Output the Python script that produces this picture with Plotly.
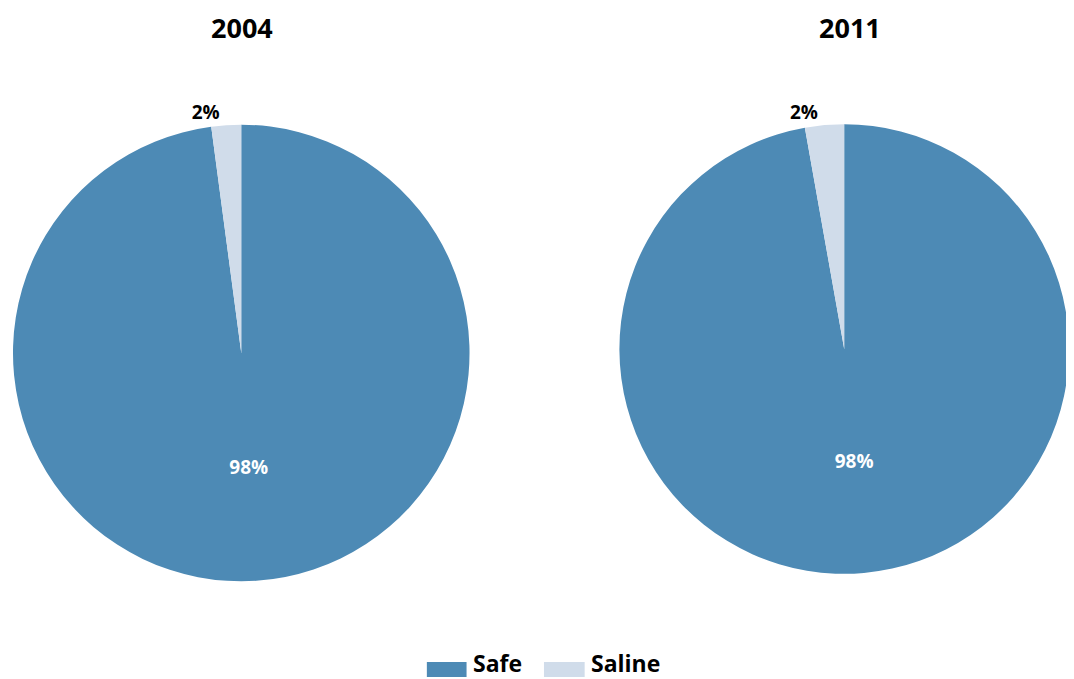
import plotly.graph_objects as go

years = ["2004", "2011"]
categories = ["Safe", "Saline"]
values_2004 = [97.9, 2.1]
values_2011 = [97.2, 2.8]
text_2004 = ["98%", "2%"]
text_2011 = ["98%", "2%"]
colors = ["#4d8ab5", "#d0dcea"]

# page body has an 8px margin; figure is sized to fit the remaining viewport
OFF = 8
W, H = 1074 - OFF, 679 - OFF
FONT = "Open Sans"

fig = go.Figure()

def px_x(x):
    return (x - OFF) / W

def px_y(y):
    return 1 - (y - OFF) / H

# domains: width sets the radius, extra height leaves room for outside labels
pies = [
    (values_2004, text_2004, [10, 470], [123 - 40, 583 + 40]),
    (values_2011, text_2011, [621, 1074], [122.5 - 40, 575.5 + 40]),
]
for vals, txt, xr, yr in pies:
    fig.add_trace(go.Pie(
        labels=categories, values=vals, text=["<b>%s</b>" % t for t in txt],
        textinfo="text", textposition=["inside", "outside"],
        insidetextfont=dict(color="white", size=19, family=FONT),
        outsidetextfont=dict(color="black", size=19, family=FONT),
        insidetextorientation="horizontal",
        marker=dict(colors=colors, line=dict(width=0)),
        sort=False, direction="clockwise", rotation=0,
        showlegend=False, hoverinfo="label+percent",
        domain=dict(x=[max(0, px_x(xr[0])), min(1, px_x(xr[1]))],
                    y=[px_y(yr[1]), px_y(yr[0])]),
    ))

annotations = []
for yr_label, cx in zip(years, [241, 853]):
    annotations.append(dict(text="<b>%s</b>" % yr_label, x=px_x(cx), y=px_y(28),
                            xref="paper", yref="paper", showarrow=False,
                            font=dict(size=27, color="black", family=FONT),
                            xanchor="center", yanchor="middle"))

shapes = []
legend_items = [(427, 467, 471), (545, 586, 590)]
for (x0, x1, tx), cat, col in zip(legend_items, categories, colors):
    shapes.append(dict(type="rect", xref="paper", yref="paper",
                       x0=px_x(x0), x1=px_x(x1), y0=px_y(677), y1=px_y(662),
                       fillcolor=col, line=dict(width=0)))
    annotations.append(dict(text="<b>%s</b>" % cat, x=px_x(tx), y=px_y(663),
                            xref="paper", yref="paper", showarrow=False,
                            font=dict(size=23, color="black", family=FONT),
                            xanchor="left", yanchor="middle"))

fig.update_layout(
    width=W, height=H,
    margin=dict(l=0, r=0, t=0, b=0),
    paper_bgcolor="white", plot_bgcolor="white",
    annotations=annotations, shapes=shapes,
    font=dict(family=FONT),
)

fig.write_html("out.html")
